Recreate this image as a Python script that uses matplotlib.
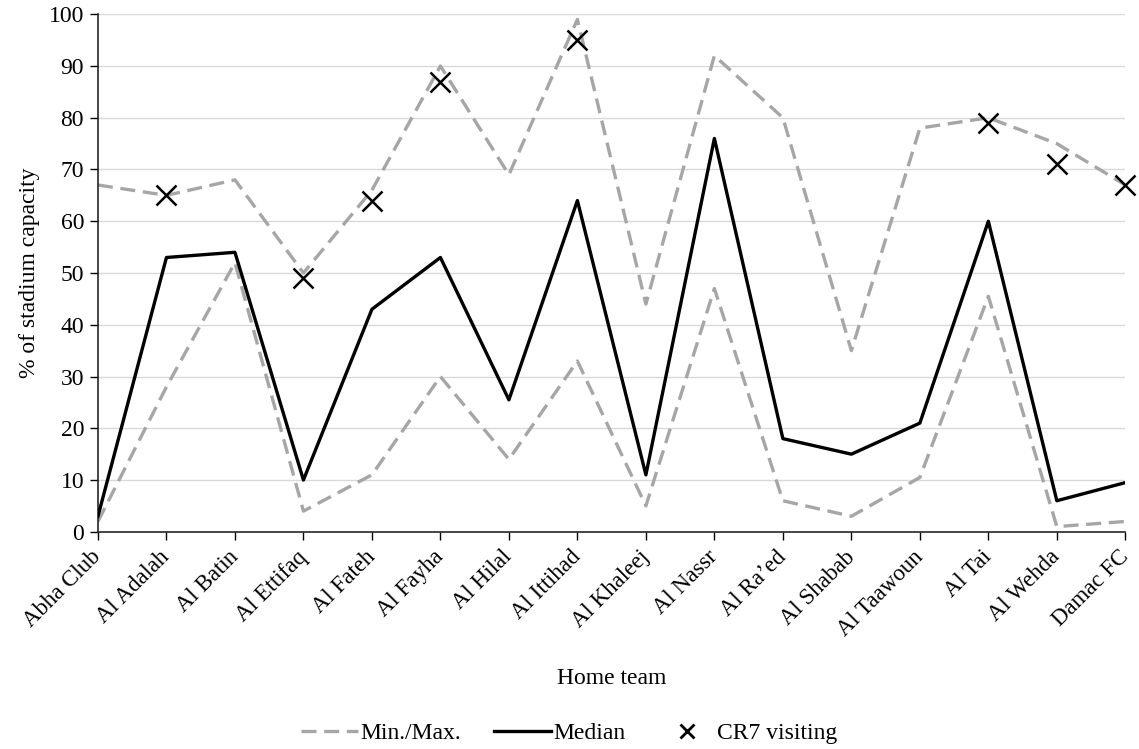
import numpy as np
import matplotlib.pyplot as plt
from matplotlib.lines import Line2D

plt.rcParams['font.family'] = ['Liberation Serif', 'DejaVu Serif']

teams = ['Abha Club', 'Al Adalah', 'Al Batin', 'Al Ettifaq', 'Al Fateh', 'Al Fayha',
         'Al Hilal', 'Al Ittihad', 'Al Khaleej', 'Al Nassr', 'Al Ra\u2019ed', 'Al Shabab',
         'Al Taawoun', 'Al Tai', 'Al Wehda', 'Damac FC']

max_vals = [67, 65, 68, 50, 66, 90, 69, 99, 44, 92, 80, 35, 78, 80, 75, 67]
min_vals = [2, 28, 52, 4, 11, 30, 14, 33, 5, 47, 6, 3, 10.5, 45.5, 1, 2]
median_vals = [3, 53, 54, 10, 43, 53, 25.5, 64, 11, 76, 18, 15, 21, 60, 6, 9.5]

# CR7 visiting games (home team -> % capacity)
cr7_teams = ['Al Adalah', 'Al Ettifaq', 'Al Fateh', 'Al Fayha', 'Al Ittihad', 'Al Tai', 'Al Wehda', 'Damac FC']
cr7_vals = [65, 49, 64, 87, 95, 79, 71, 67]

x = np.arange(len(teams))
cr7_x = [teams.index(t) for t in cr7_teams]

grey = '#a6a6a6'
fs = 17

fig = plt.figure(figsize=(11.39, 7.49), dpi=100)
ax = fig.add_axes([0.086, 0.29, 0.902, 0.691])

dash = (4.5, 2.3)
ax.plot(x, max_vals, color=grey, lw=2.4, linestyle=(0, dash), zorder=2)
ax.plot(x, min_vals, color=grey, lw=2.4, linestyle=(0, dash), zorder=2)
ax.plot(x, median_vals, color='black', lw=2.4, zorder=3)
ax.plot(cr7_x, cr7_vals, linestyle='none', marker='x', color='black',
        markersize=15, markeredgewidth=1.8, zorder=4, clip_on=False)

ax.set_xlim(0, len(teams) - 1)
ax.set_ylim(0, 100)
ax.set_yticks(np.arange(0, 101, 10))
ax.set_xticks(x)
ax.set_xticklabels(teams, rotation=45, ha='right', va='center', rotation_mode='anchor',
                   fontsize=16.5)
ax.yaxis.grid(True, color='#d9d9d9', lw=1)
ax.set_axisbelow(True)

for s in ['top', 'right']:
    ax.spines[s].set_visible(False)
for s in ['left', 'bottom']:
    ax.spines[s].set_color('#262626')
    ax.spines[s].set_linewidth(1.2)

ax.tick_params(axis='y', labelsize=fs, colors='black', length=6, width=1, pad=4)
ax.tick_params(axis='x', colors='black', length=6, width=1, pad=10)
ax.set_ylabel('% of stadium capacity', fontsize=fs, labelpad=6)
ax.set_xlabel('Home team', fontsize=fs, labelpad=20)

handles = [
    Line2D([], [], color=grey, lw=2.4, linestyle=(0, dash)),
    Line2D([], [], color='black', lw=2.4),
    Line2D([], [], color='black', marker='x', linestyle='none', markersize=10, markeredgewidth=2),
]
fig.legend(handles, ['Min./Max.', 'Median', 'CR7 visiting'], loc='lower center',
           bbox_to_anchor=(0.5, -0.022), ncol=3, frameon=False, fontsize=fs,
           handlelength=2.4, handletextpad=0.1, columnspacing=1.4)

fig.savefig('out.png', dpi=100)
